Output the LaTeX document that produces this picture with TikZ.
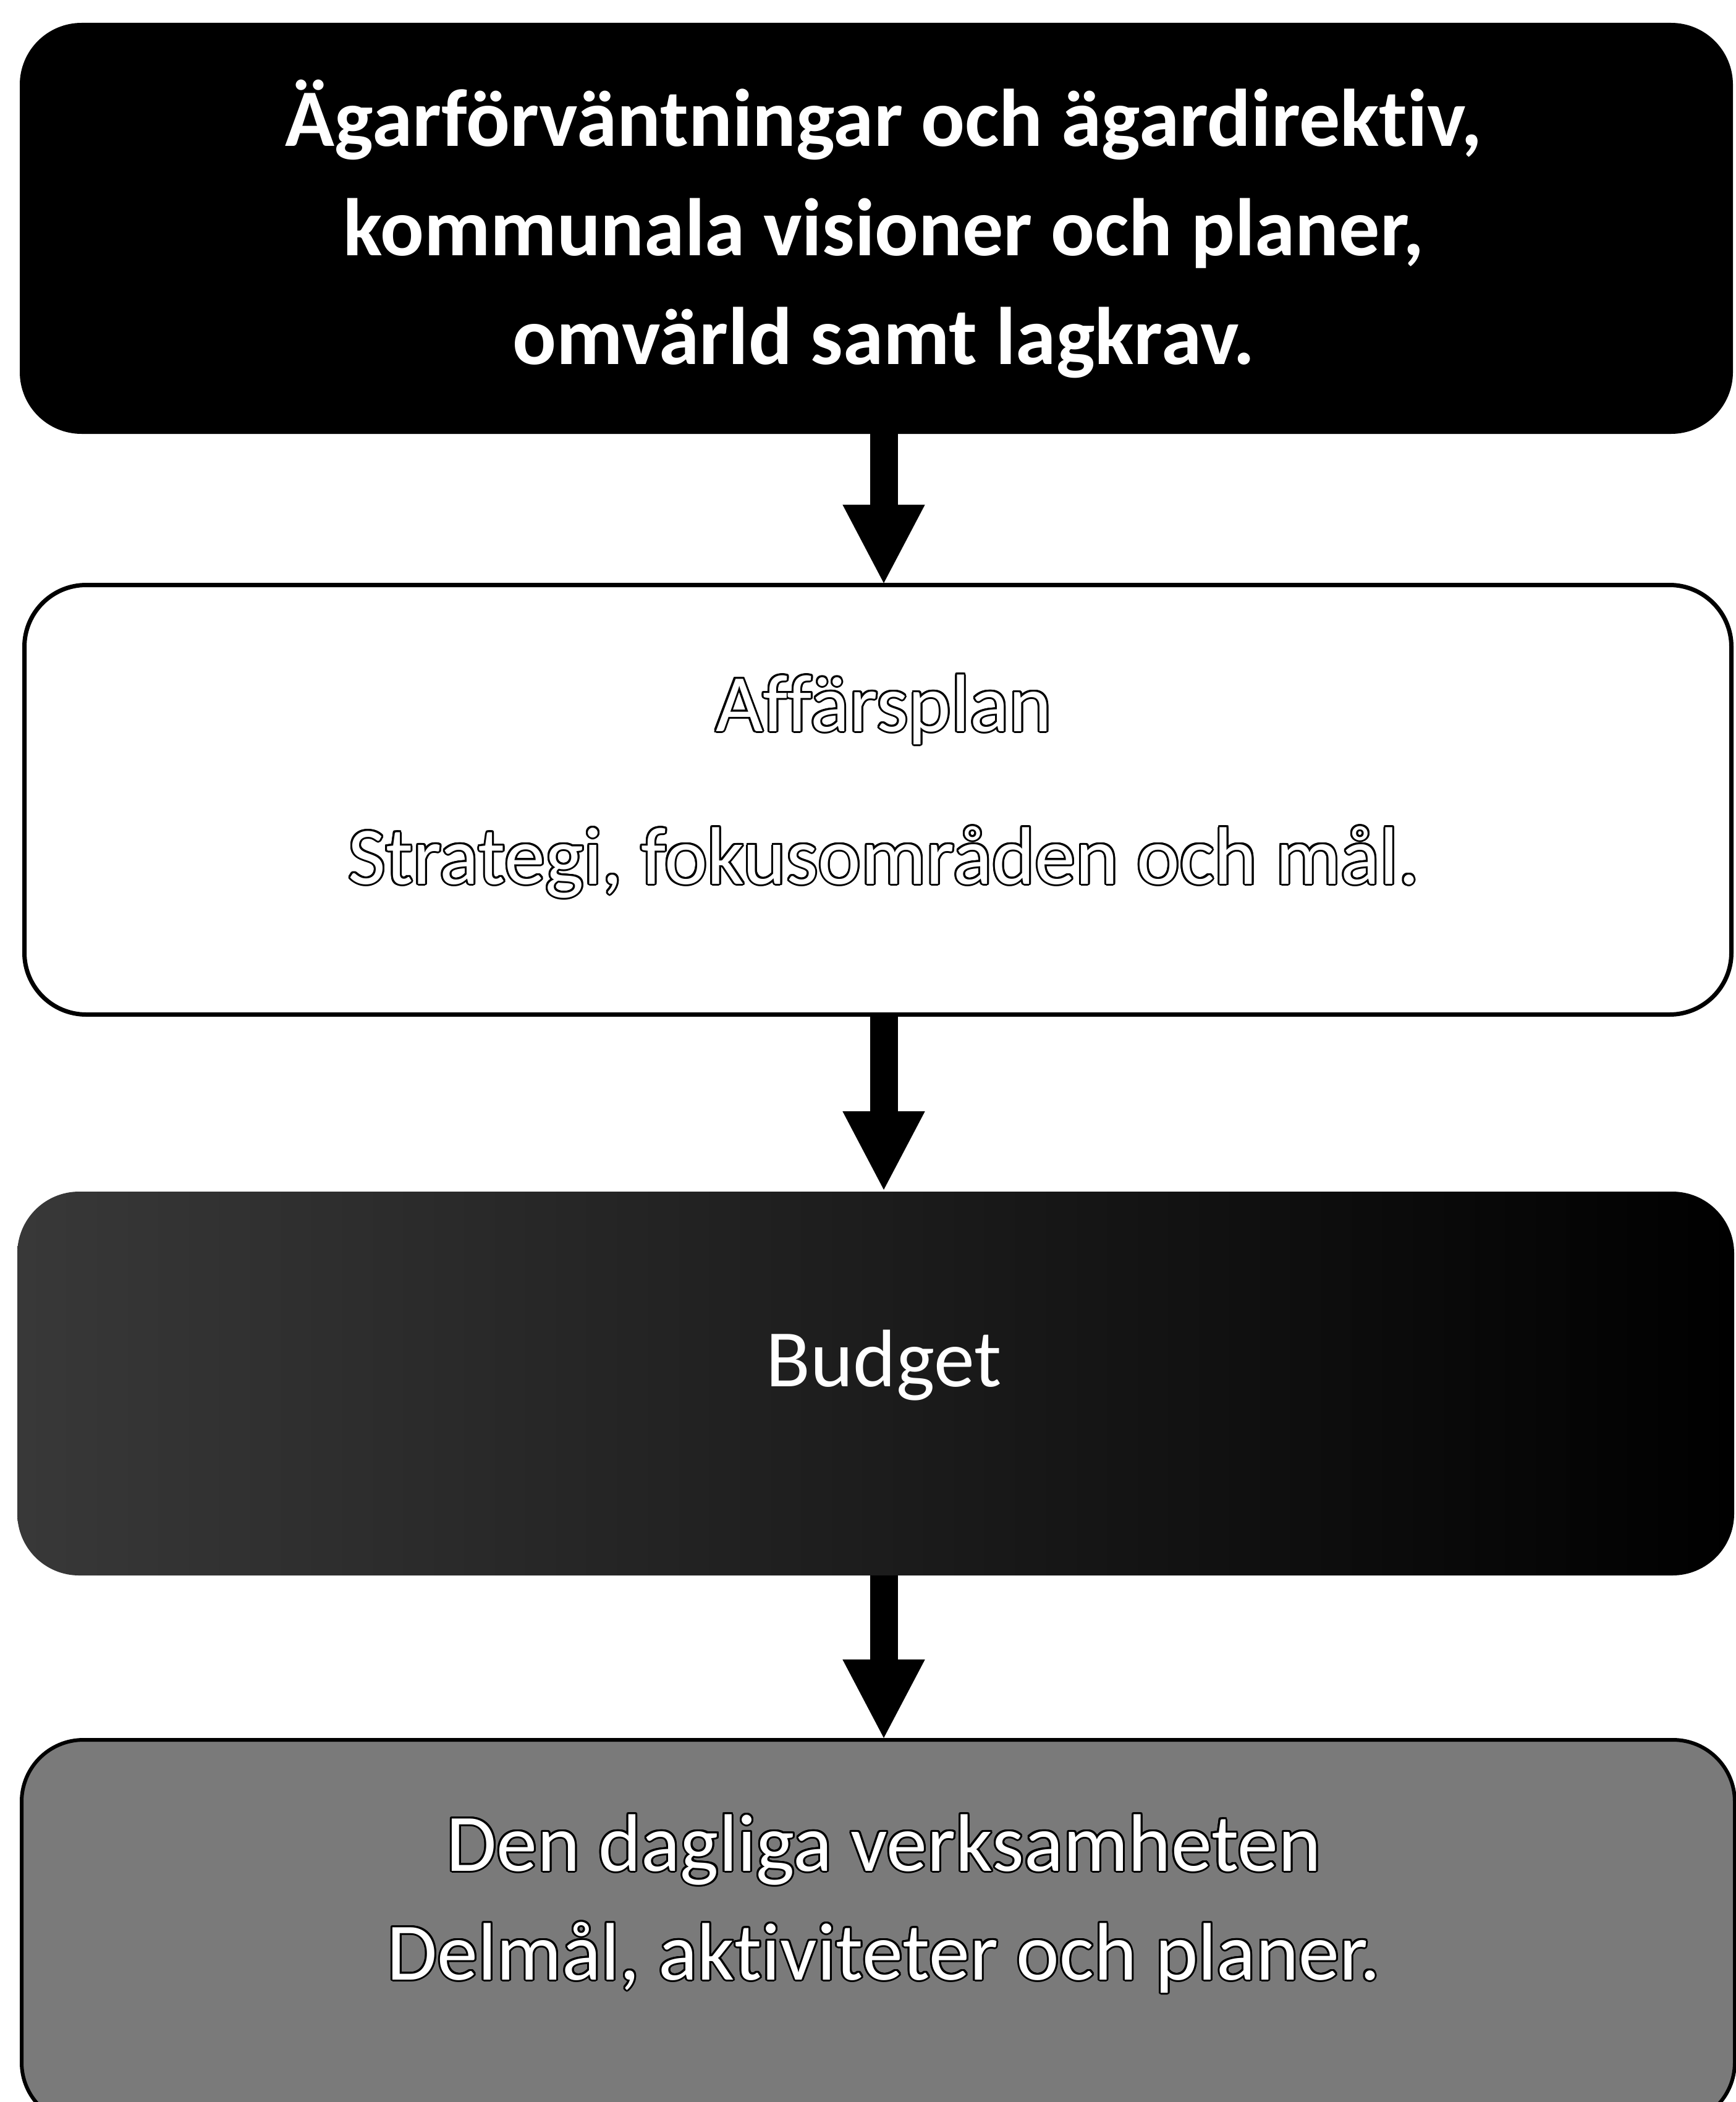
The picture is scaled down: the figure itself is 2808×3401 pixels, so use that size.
\documentclass[tikz,border=0pt]{standalone}
\usepackage{fontspec}
\setmainfont[Ligatures=NoCommon]{Carlito}
\usepackage{contour}
\contourlength{3pt}
\usetikzlibrary{arrows.meta}
\tikzset{
  boxshape/.style={rectangle, rounded corners=100pt, inner sep=0pt, outer sep=0pt},
  arr/.style={line width=45pt, -{Triangle[width=123pt,length=130pt]}},
  txt/.style={anchor=base, inner sep=0pt, font=\fontsize{132}{176}\selectfont},
  txtb/.style={txt, font=\bfseries\fontsize{132}{176}\selectfont, text=white},
}
\begin{document}
\begin{tikzpicture}[x=1pt,y=-1pt]
\useasboundingbox (0,0) rectangle (2808,3401);
\fill[white] (0,0) rectangle (2808,3401);
\coordinate (ax) at (1430,0);
% boxes
\node[boxshape, fill=black, minimum width=2772pt, minimum height=665pt] (b1) at (1418,369.5) {};
\node[boxshape, draw=black, line width=7pt, fill=white, minimum width=2762pt, minimum height=695pt] (b2) at (1420.5,1294) {};
\node[boxshape, left color=black!78, right color=black, minimum width=2778pt, minimum height=621pt] (b3) at (1417,2238.5) {};
\node[boxshape, fill=black!52, draw=black, line width=6pt, minimum width=2772pt, minimum height=622pt] (b4) at (1421,3126) {};
% texts
\node[txtb] (t1a) at (1430,237) {Ägarförväntningar och ägardirektiv,};
\node[txtb] (t1b) at (1430,413) {kommunala visioner och planer,};
\node[txtb] (t1c) at (1430,589) {omvärld samt lagkrav.};
\node[txt] (t2a) at (1430,1183) {\contour{black}{\textcolor{white}{Affärsplan}}};
\node[txt] (t2b) at (1430,1430) {\contour{black}{\textcolor{white}{Strategi, fokusområden och mål.}}};
\node[txt, text=white] (t3) at (1430,2243) {Budget};
\node[txt] (t4a) at (1430,3027) {\contour{black}{\textcolor{white}{Den dagliga verksamheten}}};
\node[txt] (t4b) at (1430,3203) {\contour{black}{\textcolor{white}{Delmål, aktiviteter och planer.}}};
% arrows
\draw[arr] (ax |- b1.south) -- (ax |- b2.north);
\draw[arr] (ax |- b2.south) -- (ax |- b3.north);
\draw[arr] (ax |- b3.south) -- (ax |- b4.north);
\end{tikzpicture}
\end{document}
